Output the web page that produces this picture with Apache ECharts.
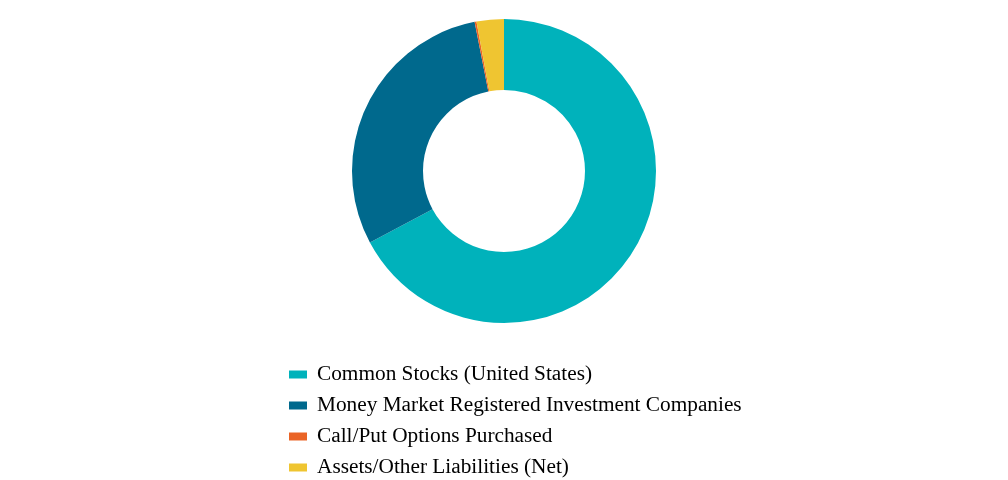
<!DOCTYPE html>
<html>
<head>
<meta charset="utf-8">
<script src="https://cdn.jsdelivr.net/npm/echarts@6/dist/echarts.min.js"></script>
<style>
  html, body { margin: 0; padding: 0; background: #fff; }
  #chart { width: 1008px; height: 480px; }
</style>
</head>
<body>
<div id="chart"></div>
<script>
// 资产配置数据
const categories = [
    'Common Stocks (United States)',
    'Money Market Registered Investment Companies',
    'Call/Put Options Purchased',
    'Assets/Other Liabilities (Net)'
];
const weights = [67.2, 29.7, 0.2, 2.9];
const colors = ['#00b2bb', '#00698d', '#ea6426', '#efc531'];

const chart = echarts.init(document.getElementById('chart'));
const option = {
    animation: false,
    color: colors,
    legend: {
        orient: 'vertical',
        left: 289,
        top: 364,
        height: 200,
        padding: 0,
        icon: 'rect',
        itemWidth: 18,
        itemHeight: 8,
        itemGap: 10,
        data: categories,
        textStyle: {
            fontFamily: 'Liberation Serif',
            fontSize: 21.3,
            color: '#000',
            padding: [0, 0, 0, 5]
        }
    },
    series: [{
        type: 'pie',
        center: [504, 171],
        radius: [81, 152],
        startAngle: 90,
        clockwise: true,
        label: { show: false },
        labelLine: { show: false },
        data: categories.map((name, i) => ({ name: name, value: weights[i] }))
    }]
};
chart.setOption(option);
</script>
</body>
</html>
